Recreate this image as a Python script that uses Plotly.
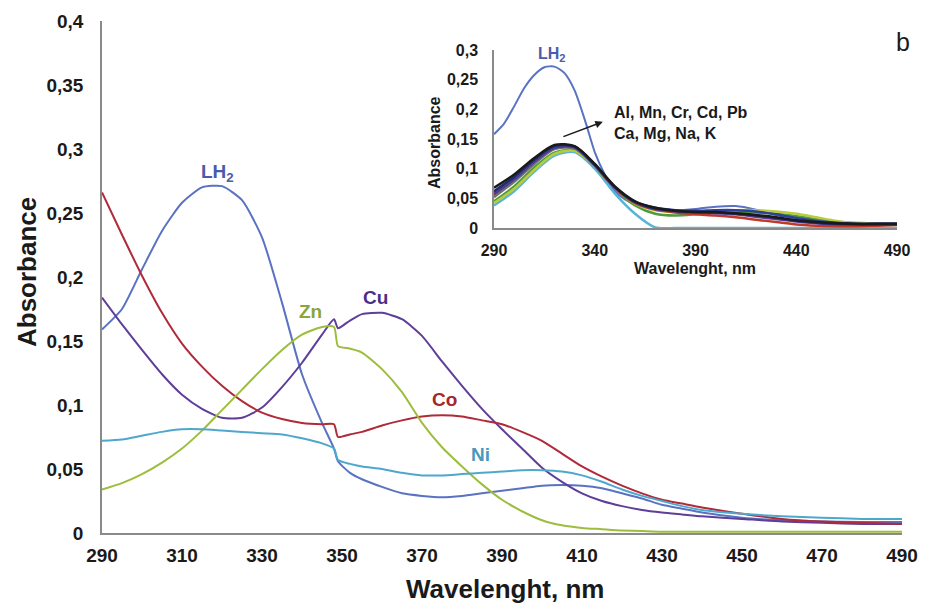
import plotly.graph_objects as go

# ---------------- main chart data ----------------
wl = [290, 295, 300, 305, 310, 315, 320, 325, 330, 335, 340, 345, 348, 349, 352, 355,
      360, 365, 370, 375, 380, 385, 390, 395, 400, 405, 410, 415, 420, 425, 430, 435,
      440, 450, 460, 470, 480, 490]

lh2 = [0.159, 0.175, 0.206, 0.236, 0.258, 0.270, 0.271, 0.260, 0.231, 0.180, 0.124, 0.086,
       0.066, 0.056, 0.047, 0.042, 0.036, 0.031, 0.029, 0.028, 0.029, 0.031, 0.033, 0.035,
       0.037, 0.0375, 0.037, 0.035, 0.031, 0.027, 0.022, 0.019, 0.016, 0.012, 0.010, 0.009,
       0.0085, 0.0085]
cu = [0.184, 0.163, 0.143, 0.124, 0.108, 0.097, 0.090, 0.090, 0.098, 0.114, 0.133, 0.155,
      0.167, 0.160, 0.166, 0.171, 0.172, 0.167, 0.154, 0.134, 0.115, 0.097, 0.081, 0.066,
      0.051, 0.040, 0.031, 0.025, 0.021, 0.018, 0.016, 0.0145, 0.013, 0.011, 0.009, 0.008,
      0.007, 0.007]
co = [0.266, 0.233, 0.201, 0.172, 0.148, 0.130, 0.115, 0.103, 0.094, 0.089, 0.086, 0.085,
      0.085, 0.075, 0.077, 0.079, 0.084, 0.088, 0.091, 0.092, 0.091, 0.088, 0.085, 0.079,
      0.072, 0.062, 0.052, 0.044, 0.037, 0.031, 0.026, 0.023, 0.020, 0.015, 0.011, 0.009,
      0.008, 0.007]
zn = [0.034, 0.039, 0.046, 0.055, 0.066, 0.080, 0.096, 0.112, 0.128, 0.143, 0.155, 0.161,
      0.161, 0.146, 0.144, 0.141, 0.128, 0.110, 0.086, 0.067, 0.052, 0.038, 0.026, 0.017,
      0.010, 0.006, 0.004, 0.003, 0.002, 0.0015, 0.001, 0.001, 0.001, 0.001, 0.001, 0.001,
      0.001, 0.001]
ni = [0.072, 0.073, 0.076, 0.079, 0.081, 0.081, 0.080, 0.079, 0.078, 0.077, 0.074, 0.070,
      0.066, 0.057, 0.054, 0.052, 0.050, 0.047, 0.045, 0.045, 0.046, 0.047, 0.048, 0.049,
      0.049, 0.048, 0.045, 0.040, 0.034, 0.029, 0.025, 0.021, 0.018, 0.015, 0.013, 0.012,
      0.011, 0.011]

main_names = ["LH2", "Cu", "Co", "Zn", "Ni"]
main_values = [lh2, cu, co, zn, ni]
main_colors = ["#5a72c2", "#5e3e98", "#b02a3a", "#9dbd3e", "#4ea8cc"]

x_ticks = list(range(290, 491, 20))
y_ticks = [0, 0.05, 0.1, 0.15, 0.2, 0.25, 0.3, 0.35, 0.4]
y_ticktext = ["0", "0,05", "0,1", "0,15", "0,2", "0,25", "0,3", "0,35", "0,4"]

# ---------------- inset data ----------------
wl_lh2_inset = [290, 295, 300, 305, 310, 315, 320, 325, 330, 335, 340, 345, 350, 355, 360,
                370, 380, 390, 400, 410, 420, 430, 440, 450, 460, 470, 480, 490]
inset_lh2 = [0.158, 0.176, 0.205, 0.236, 0.258, 0.271, 0.272, 0.261, 0.232, 0.183, 0.128,
             0.090, 0.062, 0.048, 0.040, 0.031, 0.029, 0.032, 0.036, 0.037, 0.031, 0.022,
             0.016, 0.012, 0.010, 0.009, 0.008, 0.008]

wl2 = [290, 300, 310, 320, 330, 340, 350, 360, 370, 380, 390, 400, 410, 420, 430, 440,
       450, 460, 470, 480, 490]
al = [0.068, 0.090, 0.118, 0.140, 0.138, 0.108, 0.070, 0.045, 0.034, 0.029, 0.027, 0.027,
      0.025, 0.022, 0.018, 0.013, 0.010, 0.008, 0.007, 0.007, 0.007]
mn = [0.062, 0.086, 0.115, 0.138, 0.137, 0.107, 0.069, 0.044, 0.033, 0.029, 0.027, 0.026,
      0.024, 0.021, 0.017, 0.012, 0.009, 0.007, 0.006, 0.006, 0.006]
cr = [0.058, 0.082, 0.112, 0.135, 0.136, 0.106, 0.069, 0.044, 0.034, 0.030, 0.029, 0.030,
      0.030, 0.028, 0.023, 0.017, 0.012, 0.009, 0.007, 0.007, 0.007]
cd = [0.045, 0.070, 0.102, 0.127, 0.131, 0.104, 0.066, 0.038, 0.024, 0.021, 0.023, 0.026,
      0.027, 0.026, 0.024, 0.020, 0.015, 0.010, 0.007, 0.006, 0.006]
pb = [0.042, 0.066, 0.098, 0.125, 0.130, 0.104, 0.067, 0.041, 0.030, 0.027, 0.027, 0.029,
      0.030, 0.030, 0.028, 0.024, 0.018, 0.012, 0.008, 0.007, 0.007]
ca = [0.055, 0.080, 0.110, 0.134, 0.135, 0.105, 0.067, 0.042, 0.031, 0.026, 0.023, 0.021,
      0.018, 0.014, 0.010, 0.006, 0.004, 0.003, 0.003, 0.004, 0.005]
mg = [0.060, 0.084, 0.113, 0.137, 0.137, 0.106, 0.068, 0.043, 0.032, 0.028, 0.026, 0.025,
      0.023, 0.019, 0.015, 0.011, 0.008, 0.006, 0.006, 0.006, 0.006]
na = [0.052, 0.078, 0.108, 0.133, 0.134, 0.105, 0.068, 0.043, 0.033, 0.029, 0.027, 0.026,
      0.024, 0.021, 0.016, 0.012, 0.009, 0.007, 0.006, 0.006, 0.006]
k = [0.038, 0.062, 0.095, 0.122, 0.128, 0.100, 0.058, 0.024, 0.001, 0.0, 0.0, 0.0, 0.0,
     0.0, 0.0, 0.0, 0.0, 0.0, 0.0, 0.0, 0.0]

inset_names = ["K", "Cd", "Pb", "Ca", "Na", "Cr", "Mg", "Mn", "Al"]
inset_values = [k, cd, pb, ca, na, cr, mg, mn, al]
inset_colors = ["#5ab4d6", "#4f9a3c", "#b8cc3c", "#c0392b", "#707070", "#2f3f9c",
                "#5e3c99", "#1f2d6e", "#1a1a1a"]

x2_ticks = [290, 340, 390, 440, 490]
y2_ticks = [0, 0.05, 0.1, 0.15, 0.2, 0.25, 0.3]
y2_ticktext = ["0", "0,05", "0,1", "0,15", "0,2", "0,25", "0,3"]

FONT = "Liberation Sans, Arial, sans-serif"

fig = go.Figure()
for name, vals, col in zip(main_names, main_values, main_colors):
    fig.add_trace(go.Scatter(x=wl, y=vals, name=name, mode="lines",
                             line=dict(color=col, width=2, shape="spline", smoothing=0.6),
                             xaxis="x", yaxis="y"))

fig.add_trace(go.Scatter(x=wl_lh2_inset, y=inset_lh2, name="LH2 (inset)", mode="lines",
                         line=dict(color="#5a72c2", width=2, shape="spline", smoothing=0.7),
                         xaxis="x2", yaxis="y2"))
for name, vals, col in zip(inset_names, inset_values, inset_colors):
    fig.add_trace(go.Scatter(x=wl2, y=vals, name=name, mode="lines",
                             line=dict(color=col, width=2.5, shape="spline", smoothing=0.8),
                             xaxis="x2", yaxis="y2"))

W, H = 925, 610
axis_common = dict(showgrid=False, zeroline=False, showline=True, linecolor="#8a8a8a",
                   linewidth=1.5, ticks="", automargin=False)

fig.update_layout(
    width=W, height=H, margin=dict(l=0, r=0, t=0, b=0, autoexpand=False),
    paper_bgcolor="white", plot_bgcolor="white", showlegend=False,
    font=dict(family=FONT, color="#1a1a1a"),
    xaxis=dict(domain=[102 / W, 902 / W], range=[290, 490], tickvals=x_ticks,
               tickfont=dict(size=19, weight="bold", color="#1a1a1a"),
               ticklabelstandoff=4, anchor="y", **axis_common),
    yaxis=dict(domain=[77 / H, 589 / H], range=[0, 0.4], tickvals=y_ticks,
               ticktext=y_ticktext, tickfont=dict(size=19, weight="bold", color="#1a1a1a"),
               ticklabelstandoff=13, anchor="x", **axis_common),
    xaxis2=dict(domain=[494 / W, 897 / W], range=[290, 490], tickvals=x2_ticks,
                tickfont=dict(size=16, weight="bold", color="#1a1a1a"),
                ticklabelstandoff=7, anchor="y2", **axis_common),
    yaxis2=dict(domain=[(H - 228) / H, (H - 50) / H], range=[0, 0.3], tickvals=y2_ticks,
                ticktext=y2_ticktext, tickfont=dict(size=16, weight="bold", color="#1a1a1a"),
                ticklabelstandoff=11, anchor="x2", **axis_common),
)

ann = []
C = dict(xanchor="center", yanchor="middle", showarrow=False)
# axis titles (main)
ann.append(dict(text="Absorbance", xref="paper", yref="paper", x=27 / W, y=1 - 272 / H,
                textangle=-90, font=dict(size=26, weight="bold", color="#1a1a1a"), **C))
ann.append(dict(text="Wavelenght, nm", xref="paper", yref="paper", x=505 / W, y=1 - 589 / H,
                font=dict(size=26, weight="bold", color="#1a1a1a"), **C))
# axis titles (inset)
ann.append(dict(text="Absorbance", xref="paper", yref="paper", x=435 / W, y=1 - 143 / H,
                textangle=-90, font=dict(size=16, weight="bold", color="#1a1a1a"), **C))
ann.append(dict(text="Wavelenght, nm", xref="paper", yref="paper", x=695 / W, y=1 - 268 / H,
                font=dict(size=16, weight="bold", color="#1a1a1a"), **C))
# series labels (main)
labels = [("LH<sub>2</sub>", 318.8, 0.281, "#4a5bab"),
          ("Zn", 342.1, 0.1734, "#8aa63a"),
          ("Cu", 358.4, 0.184, "#4b2f86"),
          ("Co", 375.7, 0.104, "#a4262e"),
          ("Ni", 384.5, 0.061, "#4a98be")]
for t, xx, yy, c in labels:
    ann.append(dict(text=t, x=xx, y=yy, xref="x", yref="y",
                    font=dict(size=19, weight="bold", color=c), **C))
# inset labels
ann.append(dict(text="LH<sub>2</sub>", x=319, y=0.292, xref="x2", yref="y2",
                font=dict(size=16, weight="bold", color="#4a5bab"), **C))
ann.append(dict(text="Al, Mn, Cr, Cd, Pb<br>Ca, Mg, Na, K", xref="paper", yref="paper",
                x=612 / W, y=1 - 123 / H, xanchor="left", yanchor="middle", align="left",
                showarrow=False, font=dict(size=16, weight="bold", color="#1a1a1a")))
ann.append(dict(text="", x=344, y=0.179, xref="x2", yref="y2", ax=323.7, ay=0.153,
                axref="x2", ayref="y2", showarrow=True, arrowhead=2, arrowsize=1,
                arrowwidth=1.5, arrowcolor="#1a1a1a"))
ann.append(dict(text="b", xref="paper", yref="paper", x=903 / W, y=1 - 42 / H,
                font=dict(size=25, color="#1a1a1a"), **C))
fig.update_layout(annotations=ann)

fig.write_html("out.html")
